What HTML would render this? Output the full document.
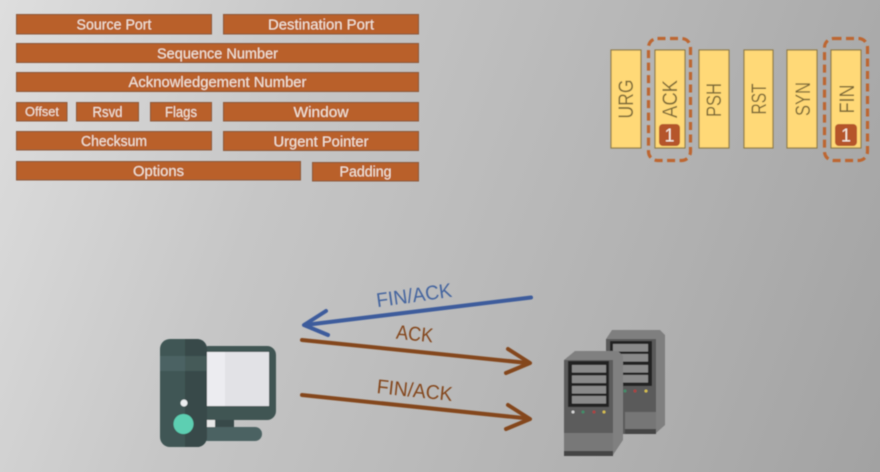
<!DOCTYPE html>
<html>
<head>
<meta charset="utf-8">
<style>
html,body{margin:0;padding:0;width:880px;height:472px;overflow:hidden;background:#bbb}
svg{display:block;position:absolute;left:0;top:0}
#bg{position:absolute;left:0;top:0;width:880px;height:472px;background:linear-gradient(110deg,#dedede 0%,#c6c6c6 31.5%,#b2b2b2 70%,#a2a2a2 100%)}
text{font-family:"Liberation Sans",sans-serif}
</style>
</head>
<body>
<div id="bg"></div>
<svg width="880" height="472" viewBox="0 0 880 472" xmlns="http://www.w3.org/2000/svg">
<defs><filter id="s" x="-5%" y="-5%" width="110%" height="110%"><feGaussianBlur stdDeviation="0.5"/></filter></defs>
<g filter="url(#s)">
<g fill="#b9602a" stroke="#8a583a" stroke-width="1">
<rect x="16.5" y="14.5" width="195" height="19.5"/>
<rect x="223.5" y="14.5" width="195" height="19.5"/>
<rect x="16.5" y="43.5" width="402" height="19"/>
<rect x="16.5" y="72.5" width="402" height="19"/>
<rect x="16.5" y="102.5" width="50.5" height="18.5"/>
<rect x="76.5" y="102.5" width="62" height="18.5"/>
<rect x="150.5" y="102.5" width="61" height="18.5"/>
<rect x="223.5" y="102.5" width="195" height="18.5"/>
<rect x="16.5" y="131.5" width="195" height="18.5"/>
<rect x="223.5" y="131.5" width="195" height="19"/>
<rect x="16.5" y="161.5" width="284" height="18.5"/>
<rect x="312.5" y="162.5" width="106" height="18.5"/>
</g>
<g fill="#f3e6da" font-size="15" text-anchor="middle">
<text x="114" y="29.500" textLength="75" lengthAdjust="spacingAndGlyphs">Source Port</text>
<text x="321" y="29.500" textLength="106" lengthAdjust="spacingAndGlyphs">Destination Port</text>
<text x="217.500" y="58.500" textLength="121" lengthAdjust="spacingAndGlyphs">Sequence Number</text>
<text x="217.500" y="87" textLength="178" lengthAdjust="spacingAndGlyphs">Acknowledgement Number</text>
<text x="42" y="116" font-size="12.500" textLength="34" lengthAdjust="spacingAndGlyphs">Offset</text>
<text x="107.500" y="117" textLength="30" lengthAdjust="spacingAndGlyphs">Rsvd</text>
<text x="181" y="117" textLength="32" lengthAdjust="spacingAndGlyphs">Flags</text>
<text x="321" y="117" textLength="55" lengthAdjust="spacingAndGlyphs">Window</text>
<text x="114" y="146" textLength="66" lengthAdjust="spacingAndGlyphs">Checksum</text>
<text x="321" y="146.500" textLength="95" lengthAdjust="spacingAndGlyphs">Urgent Pointer</text>
<text x="158.500" y="176" textLength="51" lengthAdjust="spacingAndGlyphs">Options</text>
<text x="365.500" y="176.500" textLength="52" lengthAdjust="spacingAndGlyphs">Padding</text>
</g>
<g fill="#ffd977" stroke="#8f7c48" stroke-width="1.200">
<rect x="611" y="50" width="30" height="98"/>
<rect x="655" y="50" width="30" height="98"/>
<rect x="699" y="50" width="30" height="98"/>
<rect x="744" y="50" width="29" height="98"/>
<rect x="787" y="50" width="30" height="98"/>
<rect x="831" y="50" width="30" height="98"/>
</g>
<g fill="#7d6a38" font-size="21" text-anchor="middle">
<text transform="translate(633,99) rotate(-90)" textLength="39" lengthAdjust="spacingAndGlyphs">URG</text>
<text transform="translate(677,99) rotate(-90)" textLength="38" lengthAdjust="spacingAndGlyphs">ACK</text>
<text transform="translate(721,100) rotate(-90)" textLength="34" lengthAdjust="spacingAndGlyphs">PSH</text>
<text transform="translate(766,99) rotate(-90)" textLength="31" lengthAdjust="spacingAndGlyphs">RST</text>
<text transform="translate(810,99) rotate(-90)" textLength="34" lengthAdjust="spacingAndGlyphs">SYN</text>
<text transform="translate(854,99) rotate(-90)" textLength="29" lengthAdjust="spacingAndGlyphs">FIN</text>
</g>
<g fill="none" stroke="#bd6630" stroke-width="3.200" stroke-dasharray="8 4.500">
<rect x="648.500" y="38.500" width="42" height="122" rx="9"/>
<rect x="824.500" y="38.500" width="43" height="122" rx="9"/>
</g>
<rect x="659" y="124" width="21" height="22" rx="4" fill="#b5552a"/>
<rect x="835" y="124" width="22" height="22" rx="4" fill="#b5552a"/>
<g fill="#f6eadf" font-size="18" text-anchor="middle">
<text x="669.500" y="141.500">1</text>
<text x="846" y="141.500">1</text>
</g>

<g fill="none" stroke-linecap="round" stroke-linejoin="round" stroke-width="4">
<g stroke="#3c5c9c">
<path d="M531 297.500 L305 325"/>
<path d="M326 311 L304 325 L328 335"/>
</g>
<g stroke="#84471f">
<path d="M302 340 L528 363"/>
<path d="M508 349 L530 363 L506 373"/>
<path d="M302 395 L528 418.500"/>
<path d="M508 405 L530 419 L506 429"/>
</g>
</g>
<g font-size="20" text-anchor="middle">
<text transform="translate(415,302) rotate(-8)" fill="#45659f" textLength="76" lengthAdjust="spacingAndGlyphs">FIN/ACK</text>
<text transform="translate(414,340.500) rotate(6)" fill="#84471f" textLength="37" lengthAdjust="spacingAndGlyphs">ACK</text>
<text transform="translate(414,397) rotate(6)" fill="#84471f" textLength="76" lengthAdjust="spacingAndGlyphs">FIN/ACK</text>
</g>

<!-- computer -->
<rect x="200" y="346" width="76" height="74" rx="9" fill="#3f5452"/>
<rect x="207" y="352" width="31" height="54" fill="#ececf0"/>
<rect x="225" y="352" width="44" height="54" fill="#e2e2e6"/>
<rect x="207" y="420" width="9" height="8" fill="#e6e6e6"/>
<rect x="215" y="420" width="19" height="8" fill="#374a48"/>
<rect x="200" y="427" width="62" height="14" rx="7" fill="#4b6262"/>
<rect x="160" y="339" width="47" height="108" rx="10" fill="#3f5654"/>
<path d="M185 339h12a10 10 0 0 1 10 10v88a10 10 0 0 1-10 10h-12z" fill="#384a49"/>
<rect x="160" y="356" width="25" height="15" fill="#4b6263"/>
<rect x="185" y="356" width="22" height="15" fill="#455a59"/>
<circle cx="184" cy="403" r="3.500" fill="#eceef0"/>
<circle cx="183.500" cy="424" r="10" fill="#5dcfb2"/>

<!-- back server -->
<path d="M606 339 L612 330 L660 330 L665 335 L665 425 L655 434 L625 434 L606 420Z" fill="#7f7f7f"/>
<rect x="606" y="339" width="50" height="95" fill="#5a5a5a"/>
<rect x="625" y="412" width="31" height="17" fill="#767676"/>
<rect x="625" y="429" width="31" height="5" fill="#444"/>
<rect x="610" y="341" width="42" height="45" fill="#242424"/>
<g fill="#8a8a8a">
<rect x="613" y="344" width="35" height="7.500"/>
<rect x="613" y="354" width="35" height="7.500"/>
<rect x="613" y="365" width="35" height="7.500"/>
<rect x="613" y="375" width="35" height="7.500"/>
</g>
<circle cx="625" cy="391" r="1.500" fill="#3f8f6a"/>
<circle cx="635" cy="391" r="1.500" fill="#b04040"/>
<circle cx="646" cy="391" r="1.500" fill="#d8c050"/>

<!-- front server -->
<path d="M564 360 L575 351 L618 351 L623 356 L623 440 L613 455 L564 455Z" fill="#808080"/>
<rect x="564" y="360" width="49" height="74" fill="#5c5c5c"/>
<rect x="564" y="433" width="49" height="18" fill="#787878"/>
<rect x="564" y="451" width="49" height="5" fill="#444"/>
<rect x="568" y="361" width="41" height="46" fill="#242424"/>
<g fill="#8a8a8a">
<rect x="572" y="365" width="34" height="7.500"/>
<rect x="572" y="375.500" width="34" height="7.500"/>
<rect x="572" y="386" width="34" height="7.500"/>
<rect x="572" y="396" width="34" height="7.500"/>
</g>
<circle cx="573" cy="412" r="1.500" fill="#d8d8d8"/>
<circle cx="583" cy="412" r="1.500" fill="#3f8f6a"/>
<circle cx="594" cy="412" r="1.500" fill="#b04040"/>
<circle cx="604" cy="412" r="1.500" fill="#d8c050"/>
</g>
</svg>
</body>
</html>
